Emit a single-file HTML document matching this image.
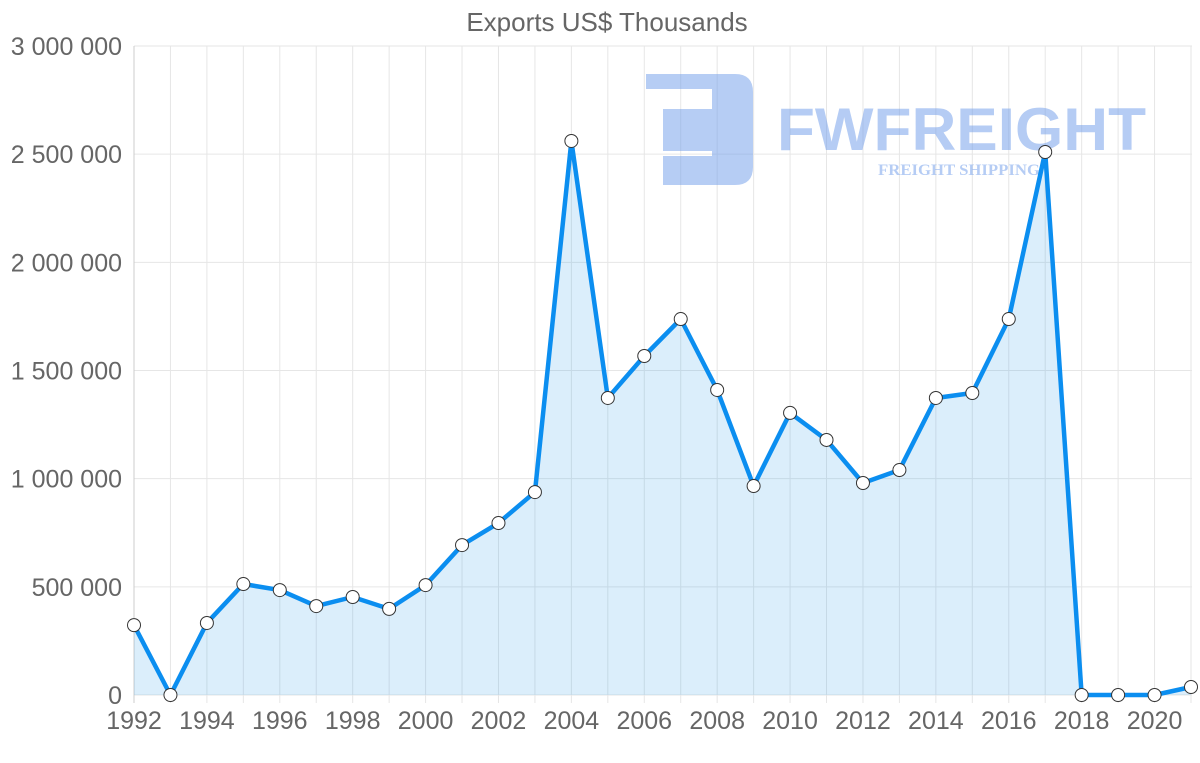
<!DOCTYPE html>
<html><head><meta charset="utf-8"><style>
body{margin:0;background:#fff;}
svg{display:block;font-family:"Liberation Sans",sans-serif;}
</style></head><body>
<svg id="c" width="1200" height="763">
<text x="607" y="31" text-anchor="middle" font-size="26" fill="#666">Exports US$ Thousands</text>
<g id="grid"></g>
<g opacity="0.5">
<path d="M646,74 H735 Q753,74 753,92 V167 Q753,185 735,185 H663 V156 H712 V151 H663 V109 H712 V89 H646 Z" fill="#6e9bea"/>
<text x="777" y="150" font-size="60" font-weight="bold" fill="#6e9bea" textLength="369" lengthAdjust="spacingAndGlyphs">FWFREIGHT</text>
<text x="878" y="175" font-size="16" font-weight="bold" font-family="Liberation Serif,serif" fill="#6e9bea" textLength="162" lengthAdjust="spacingAndGlyphs">FREIGHT SHIPPING</text>
</g>
<g id="plot"></g>
<g id="axes"></g>
</svg>
<script>
const years=[1992,1993,1994,1995,1996,1997,1998,1999,2000,2001,2002,2003,2004,2005,2006,2007,2008,2009,2010,2011,2012,2013,2014,2015,2016,2017,2018,2019,2020,2021];
const exportsValues=[323000,0,333000,513000,485000,411000,453000,398000,508000,693000,795000,938000,2561000,1373000,1567000,1738000,1410000,966000,1304000,1179000,980000,1040000,1373000,1396000,1738000,2510000,0,0,0,37000];
const yTicks=[0,500000,1000000,1500000,2000000,2500000,3000000];
const yTickLabels=["0","500 000","1 000 000","1 500 000","2 000 000","2 500 000","3 000 000"];
const xTickLabels=["1992","1994","1996","1998","2000","2002","2004","2006","2008","2010","2012","2014","2016","2018","2020"];
const NS="http://www.w3.org/2000/svg";
const x0=134,x1=1191,y0=695,y1=46;
const xs=i=>x0+(x1-x0)*i/(years.length-1);
const ys=v=>y0-(y0-y1)*v/3000000;
function mk(t,a,p){const e=document.createElementNS(NS,t);for(const k in a)e.setAttribute(k,a[k]);p.appendChild(e);return e;}
const grid=document.getElementById('grid'),plot=document.getElementById('plot'),axes=document.getElementById('axes');
yTicks.forEach((v,i)=>{
 const l=mk('line',{x1:x0,x2:1192,y1:ys(v),y2:ys(v),stroke:'#e6e6e6','stroke-width':1},grid);
 
 
 const t=mk('text',{x:122,y:ys(v)+9,'text-anchor':'end','font-size':25,fill:'#666'},axes);
 t.textContent=yTickLabels[i];
 
 
});
years.forEach((y,i)=>{
 const l=mk('line',{x1:xs(i),x2:xs(i),y1:y1,y2:y0+8,stroke:i===0?'#ccc':'#e6e6e6','stroke-width':1},grid);
 
 
});
xTickLabels.forEach(lbl=>{
 const i=years.indexOf(+lbl);
 const t=mk('text',{x:xs(i),y:729,'text-anchor':'middle','font-size':25,fill:'#666'},axes);
 t.textContent=lbl;
 
 
});
let d='';exportsValues.forEach((v,i)=>{d+=(i?'L':'M')+xs(i)+','+ys(v);});
const area=mk('path',{d:d+'L'+xs(years.length-1)+','+y0+'L'+x0+','+y0+'Z',fill:'rgba(54,162,235,0.18)'},plot);


const line=mk('path',{d:d,fill:'none',stroke:'#0b8ef0','stroke-width':4.5,'stroke-linejoin':'round'},plot);


exportsValues.forEach((v,i)=>{
 const c=mk('circle',{cx:xs(i),cy:ys(v),r:6.5,fill:'#fff',stroke:'#333','stroke-width':1},plot);
 
 
});
</script>
</body></html>
